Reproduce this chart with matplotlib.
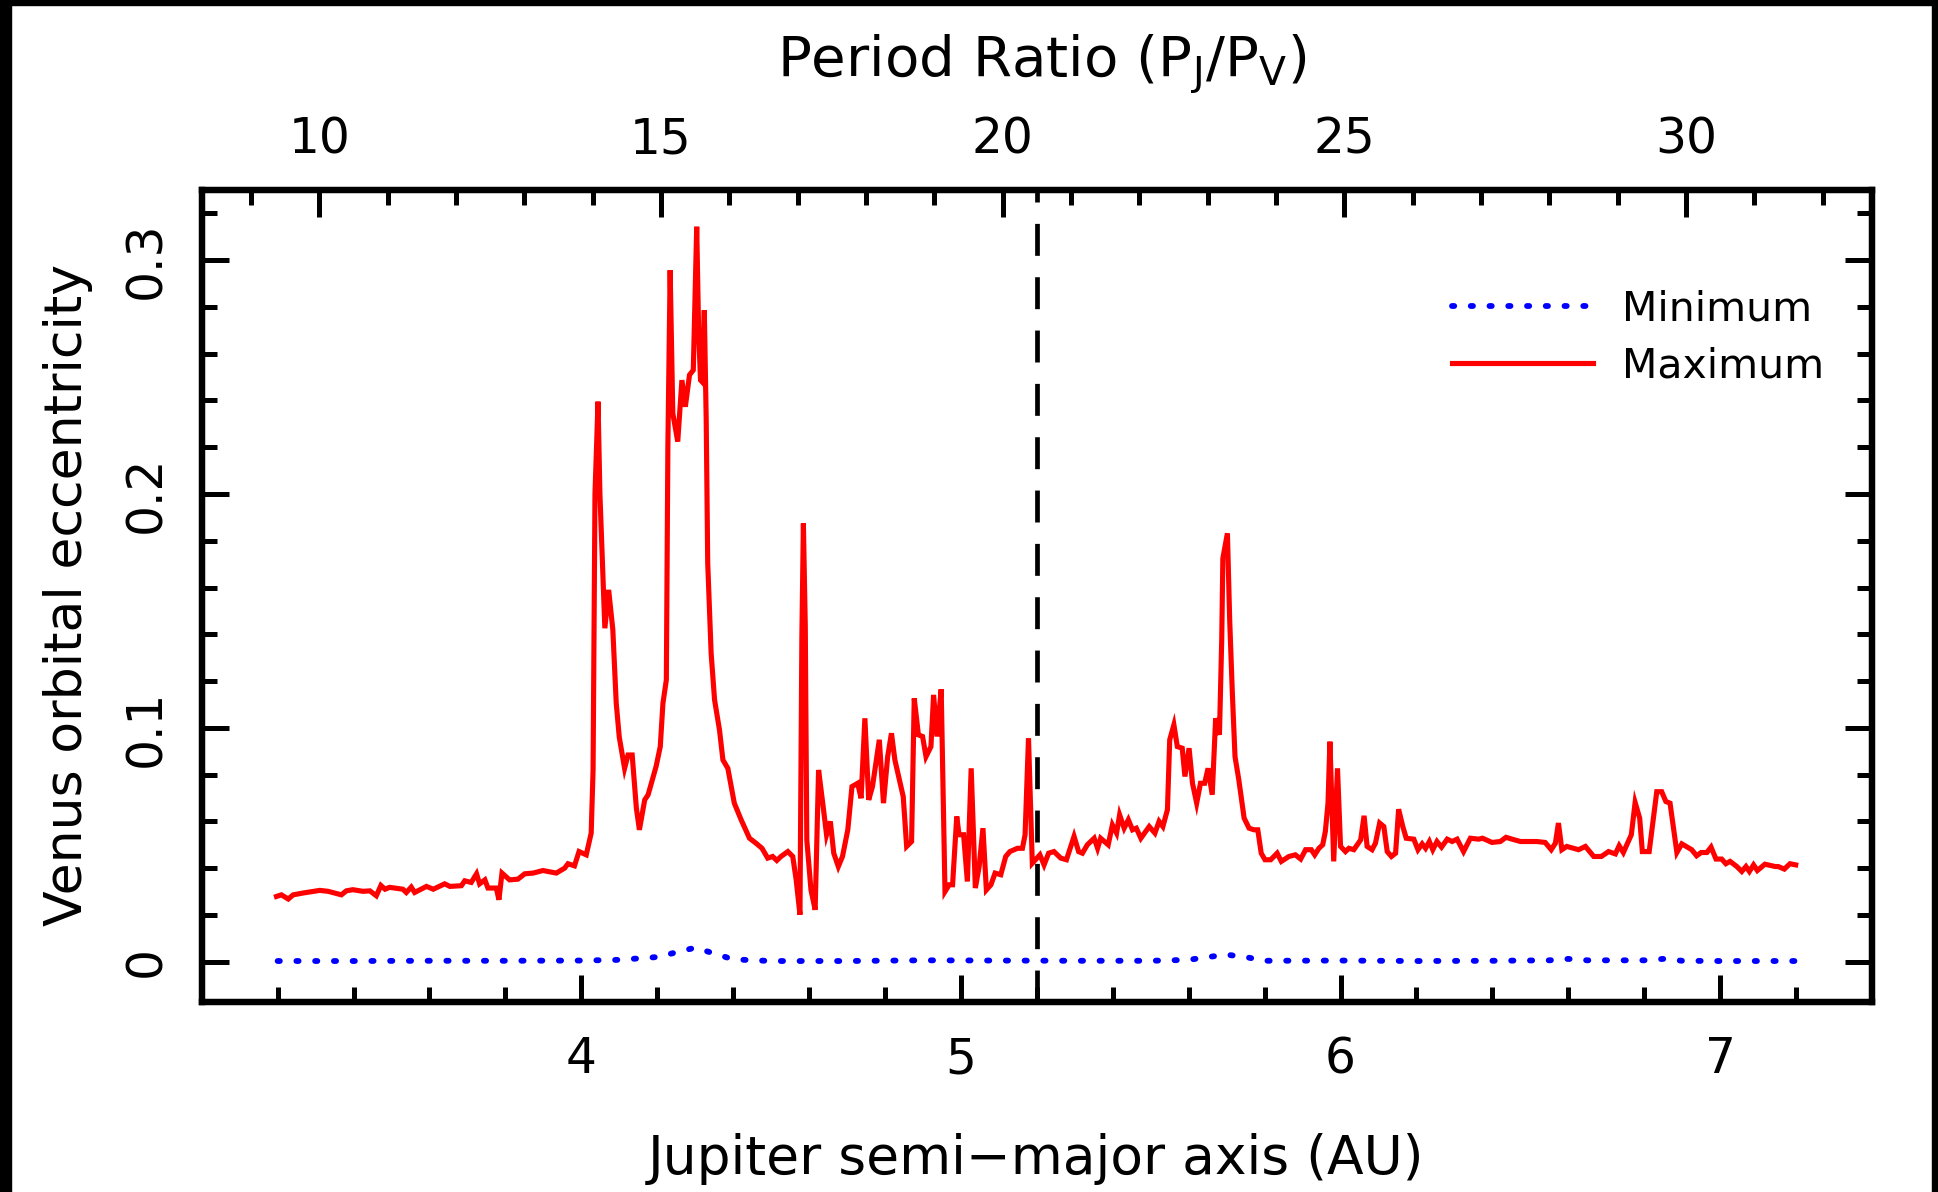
import matplotlib
matplotlib.use("Agg")
import matplotlib.pyplot as plt
from matplotlib.ticker import MultipleLocator, FixedLocator, FuncFormatter
from matplotlib.patches import Rectangle

plt.rcParams['font.family'] = ['DejaVu Sans']
plt.rcParams['lines.scale_dashes'] = False

# ---------------- data ----------------
a_max = [3.197, 3.210, 3.228, 3.241, 3.268, 3.311, 3.333, 3.368, 3.381, 3.398,
         3.425, 3.443, 3.460, 3.472, 3.483, 3.495, 3.530, 3.539, 3.552, 3.561,
         3.592, 3.610, 3.640, 3.654, 3.684, 3.693, 3.710, 3.724, 3.732, 3.746,
         3.754, 3.776, 3.783, 3.791, 3.811, 3.833, 3.851, 3.873, 3.899, 3.934,
         3.956, 3.965, 3.982, 3.994, 4.013, 4.026, 4.031, 4.036, 4.044, 4.049,
         4.062, 4.072, 4.083, 4.092, 4.100, 4.114, 4.123, 4.134, 4.145, 4.153,
         4.167, 4.176, 4.197, 4.208, 4.215, 4.224, 4.228, 4.234, 4.241, 4.254,
         4.265, 4.274, 4.285, 4.295, 4.304, 4.309, 4.314, 4.318, 4.324, 4.329,
         4.333, 4.342, 4.351, 4.364, 4.373, 4.386, 4.395, 4.403, 4.421, 4.443,
         4.460, 4.476, 4.491, 4.504, 4.515, 4.526, 4.544, 4.557, 4.566, 4.576,
         4.581, 4.585, 4.590, 4.594, 4.605, 4.616, 4.625, 4.636, 4.646, 4.656,
         4.665, 4.677, 4.688, 4.702, 4.713, 4.728, 4.737, 4.747, 4.757, 4.767,
         4.785, 4.796, 4.807, 4.817, 4.826, 4.848, 4.857, 4.870, 4.877, 4.888,
         4.899, 4.908, 4.921, 4.928, 4.937, 4.948, 4.958, 4.969, 4.978, 4.989,
         4.995, 5.007, 5.017, 5.027, 5.038, 5.048, 5.058, 5.067, 5.079, 5.090,
         5.105, 5.118, 5.129, 5.149, 5.162, 5.169, 5.178, 5.188, 5.208, 5.219,
         5.231, 5.245, 5.263, 5.278, 5.298, 5.310, 5.320, 5.333, 5.351, 5.360,
         5.368, 5.388, 5.399, 5.410, 5.418, 5.430, 5.441, 5.452, 5.462, 5.474,
         5.496, 5.511, 5.522, 5.532, 5.544, 5.550, 5.561, 5.570, 5.583, 5.590,
         5.601, 5.610, 5.621, 5.631, 5.642, 5.651, 5.662, 5.671, 5.681, 5.687,
         5.690, 5.702, 5.708, 5.715, 5.722, 5.732, 5.746, 5.759, 5.772, 5.782,
         5.791, 5.801, 5.816, 5.833, 5.844, 5.864, 5.881, 5.895, 5.908, 5.923,
         5.932, 5.943, 5.953, 5.960, 5.967, 5.972, 5.978, 5.982, 5.992, 6.000,
         6.013, 6.022, 6.035, 6.053, 6.062, 6.070, 6.083, 6.092, 6.103, 6.114,
         6.123, 6.134, 6.145, 6.153, 6.164, 6.173, 6.193, 6.204, 6.215, 6.224,
         6.234, 6.243, 6.254, 6.266, 6.281, 6.294, 6.307, 6.324, 6.342, 6.364,
         6.374, 6.399, 6.421, 6.436, 6.452, 6.474, 6.517, 6.539, 6.555, 6.566,
         6.574, 6.583, 6.596, 6.627, 6.645, 6.667, 6.687, 6.706, 6.724, 6.734,
         6.745, 6.766, 6.776, 6.788, 6.795, 6.813, 6.833, 6.846, 6.857, 6.868,
         6.886, 6.899, 6.925, 6.938, 6.950, 6.965, 6.976, 6.989, 7.004, 7.015,
         7.026, 7.044, 7.057, 7.068, 7.077, 7.088, 7.098, 7.118, 7.145, 7.153,
         7.169, 7.184, 7.199]
e_max = [0.0279, 0.0286, 0.0268, 0.0286, 0.0294, 0.0305, 0.0301, 0.0286, 0.0303, 0.0308,
         0.0301, 0.0303, 0.0282, 0.0326, 0.0310, 0.0318, 0.0310, 0.0296, 0.0319, 0.0296,
         0.0322, 0.0310, 0.0333, 0.0322, 0.0325, 0.0346, 0.0339, 0.0376, 0.0333, 0.0350,
         0.0315, 0.0315, 0.0265, 0.0379, 0.0350, 0.0353, 0.0376, 0.0379, 0.0390, 0.0379,
         0.0400, 0.0419, 0.0410, 0.0471, 0.0457, 0.0550, 0.0820, 0.2000, 0.2395, 0.2000,
         0.1426, 0.1590, 0.1420, 0.1105, 0.0960, 0.0827, 0.0884, 0.0884, 0.0657, 0.0564,
         0.0692, 0.0714, 0.0835, 0.0920, 0.1105, 0.1205, 0.2200, 0.2957, 0.2345, 0.2224,
         0.2487, 0.2373, 0.2509, 0.2530, 0.3143, 0.2700, 0.2487, 0.2480, 0.2786, 0.2316,
         0.1704, 0.1319, 0.1120, 0.0991, 0.0863, 0.0827, 0.0749, 0.0678, 0.0607, 0.0528,
         0.0507, 0.0485, 0.0443, 0.0450, 0.0433, 0.0450, 0.0471, 0.0450, 0.0350, 0.0201,
         0.1390, 0.1874, 0.1433, 0.0521, 0.0307, 0.0222, 0.0820, 0.0678, 0.0543, 0.0600,
         0.0464, 0.0407, 0.0450, 0.0564, 0.0749, 0.0763, 0.0699, 0.1041, 0.0692, 0.0749,
         0.0949, 0.0678, 0.0877, 0.0977, 0.0863, 0.0706, 0.0493, 0.0514, 0.1126, 0.0970,
         0.0963, 0.0877, 0.0920, 0.1141, 0.0963, 0.1165, 0.0300, 0.0329, 0.0329, 0.0621,
         0.0543, 0.0543, 0.0343, 0.0827, 0.0315, 0.0407, 0.0571, 0.0307, 0.0329, 0.0379,
         0.0372, 0.0450, 0.0471, 0.0485, 0.0485, 0.0543, 0.0956, 0.0421, 0.0457, 0.0414,
         0.0464, 0.0471, 0.0443, 0.0436, 0.0536, 0.0471, 0.0464, 0.0500, 0.0528, 0.0485,
         0.0528, 0.0500, 0.0585, 0.0550, 0.0628, 0.0571, 0.0607, 0.0564, 0.0571, 0.0528,
         0.0578, 0.0550, 0.0600, 0.0578, 0.0650, 0.0949, 0.1013, 0.0920, 0.0913, 0.0792,
         0.0913, 0.0763, 0.0678, 0.0763, 0.0763, 0.0827, 0.0714, 0.1041, 0.0970, 0.1376,
         0.1725, 0.1832, 0.1461, 0.1148, 0.0877, 0.0778, 0.0614, 0.0571, 0.0564, 0.0564,
         0.0464, 0.0436, 0.0436, 0.0464, 0.0429, 0.0450, 0.0457, 0.0439, 0.0479, 0.0479,
         0.0457, 0.0485, 0.0500, 0.0557, 0.0678, 0.0941, 0.0635, 0.0429, 0.0827, 0.0493,
         0.0471, 0.0485, 0.0479, 0.0521, 0.0624, 0.0493, 0.0479, 0.0507, 0.0593, 0.0578,
         0.0471, 0.0450, 0.0464, 0.0652, 0.0578, 0.0528, 0.0524, 0.0479, 0.0504, 0.0485,
         0.0514, 0.0479, 0.0514, 0.0490, 0.0524, 0.0514, 0.0524, 0.0471, 0.0528, 0.0524,
         0.0528, 0.0510, 0.0514, 0.0532, 0.0524, 0.0514, 0.0514, 0.0510, 0.0479, 0.0507,
         0.0593, 0.0479, 0.0493, 0.0479, 0.0493, 0.0450, 0.0450, 0.0471, 0.0461, 0.0496,
         0.0467, 0.0543, 0.0681, 0.0614, 0.0471, 0.0471, 0.0727, 0.0727, 0.0685, 0.0678,
         0.0467, 0.0504, 0.0479, 0.0453, 0.0467, 0.0467, 0.0490, 0.0439, 0.0439, 0.0419,
         0.0429, 0.0407, 0.0386, 0.0407, 0.0386, 0.0414, 0.0390, 0.0417, 0.0407, 0.0407,
         0.0396, 0.0419, 0.0414]

a_min = [3.20, 3.40, 3.60, 3.80, 4.00, 4.10, 4.20, 4.25, 4.30, 4.35, 4.40, 4.50,
         4.70, 4.90, 5.10, 5.30, 5.50, 5.60, 5.65, 5.70, 5.75, 5.80, 6.00, 6.20,
         6.40, 6.55, 6.60, 6.65, 6.80, 6.85, 6.90, 7.00, 7.20]
e_min = [0.0003, 0.0003, 0.0004, 0.0004, 0.0005, 0.0008, 0.0020, 0.0040, 0.0060, 0.0035,
         0.0010, 0.0003, 0.0003, 0.0006, 0.0005, 0.0004, 0.0004, 0.0008, 0.0020, 0.0030,
         0.0020, 0.0004, 0.0005, 0.0003, 0.0004, 0.0006, 0.0012, 0.0006, 0.0006, 0.0012,
         0.0004, 0.0003, 0.0003]

jupiter_now = 5.2
x_ticks_major = [4, 5, 6, 7]
y_ticks_major = [0, 0.1, 0.2, 0.3]
top_ticks_major = [10, 15, 20, 25, 30]

# ---------------- figure ----------------
W, H = 1938, 1192
fig = plt.figure(figsize=(W / 100, H / 100), dpi=100)
ax = fig.add_axes([201.7 / W, 1 - 1001.7 / H, (1872 - 201.7) / W, (1001.7 - 190) / H])

ax.plot(a_min, e_min, color='#0000ff', lw=4.2, dashes=(1.6, 11.9),
        dash_capstyle='round', label='Minimum')
ax.plot(a_max, e_max, color='#ff0000', lw=3.7, solid_joinstyle='miter',
        label='Maximum')
ax.axvline(jupiter_now, color='black', lw=3.4, dashes=(23, 15.4))

ax.set_xlim(3.0, 7.4)
ax.set_ylim(-0.0171, 0.330)

ax.xaxis.set_major_locator(FixedLocator(x_ticks_major))
ax.xaxis.set_minor_locator(MultipleLocator(0.2))
ax.yaxis.set_major_locator(FixedLocator(y_ticks_major))
ax.yaxis.set_minor_locator(MultipleLocator(0.02))
ax.yaxis.set_major_formatter(FuncFormatter(lambda v, p: '0' if abs(v) < 1e-9 else f'{v:.1f}'))
ax.xaxis.set_major_formatter(FuncFormatter(lambda v, p: f'{v:.0f}'))

for s in ax.spines.values():
    s.set_linewidth(4.5)

ax.tick_params(which='both', direction='in', right=True, top=False, width=3.6)
ax.tick_params(which='major', length=19.5)
ax.tick_params(which='minor', length=10.5)
ax.tick_params(axis='x', which='major', labelsize=35, pad=24)
ax.tick_params(axis='y', which='major', labelsize=35, pad=23, labelrotation=90)
for lab in ax.get_yticklabels():
    lab.set_va('center')

ax.set_xlabel('Jupiter semi\u2212major axis (AU)', fontsize=38.5)
ax.xaxis.set_label_coords(0.4997, -0.194)
ax.xaxis.label.set_va('center')
ax.set_ylabel('Venus orbital eccentricity', fontsize=37.5)
ax.yaxis.set_label_coords(-0.080, 0.501)
ax.yaxis.label.set_va('center')

# top axis: period ratio
ax2 = ax.twiny()
ax2.set_xlim(8.279, 32.72)
ax2.xaxis.set_major_locator(FixedLocator(top_ticks_major))
ax2.xaxis.set_minor_locator(MultipleLocator(1))
ax2.tick_params(which='both', direction='in', top=True, bottom=False, width=3.6)
ax2.tick_params(which='major', length=19.5, labelsize=35, pad=19)
ax2.tick_params(which='minor', length=10.5)
for s in ax2.spines.values():
    s.set_linewidth(4.5)
ax2.set_xlabel(r'Period Ratio (P$_\mathregular{J}$/P$_\mathregular{V}$)', fontsize=40.5)
ax2.xaxis.set_label_coords(0.5027, 1.155)
ax2.xaxis.label.set_va('center')

leg = ax.legend(loc='upper left', bbox_to_anchor=(0.7486, 0.878), frameon=False,
                fontsize=29.5, handlelength=3.45, handletextpad=0.70, labelspacing=0.43,
                borderpad=0, borderaxespad=0)

# black frame edges of the original image
fig.patches.append(Rectangle((0, 0), 11 / W, 1, transform=fig.transFigure,
                             color='black', zorder=10))
fig.patches.append(Rectangle((0, 1 - 5 / H), 1, 5 / H, transform=fig.transFigure,
                             color='black', zorder=10))
fig.patches.append(Rectangle((1 - 6 / W, 0), 6 / W, 1, transform=fig.transFigure,
                             color='black', zorder=10))

fig.savefig('out.png', dpi=100)
